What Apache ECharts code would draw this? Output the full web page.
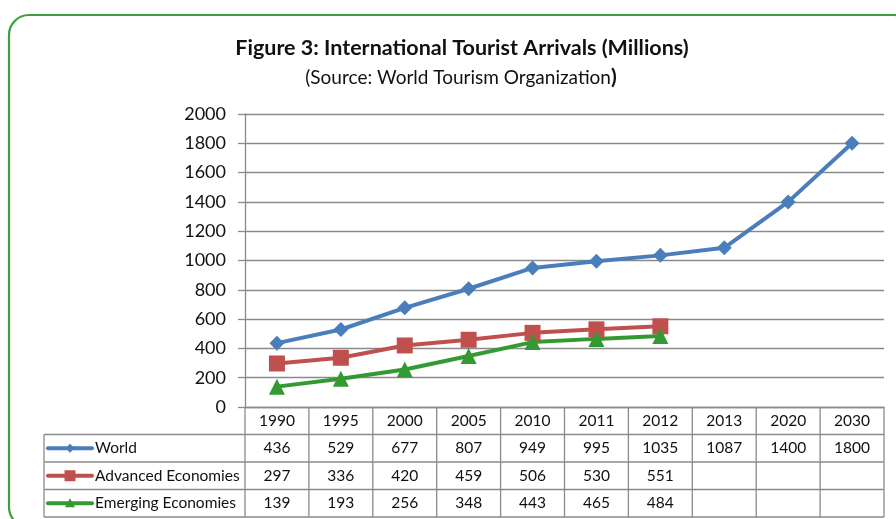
<!DOCTYPE html>
<html>
<head>
<meta charset="utf-8">
<script src="https://cdn.jsdelivr.net/npm/echarts@6/dist/echarts.min.js"></script>
<style>
  html, body { margin: 0; padding: 0; background: #fff; }
  #chart { width: 896px; height: 519px; }
</style>
</head>
<body>
<div id="chart"></div>
<script>
// International tourist arrivals, millions
const years = ['1990', '1995', '2000', '2005', '2010', '2011', '2012', '2013', '2020', '2030'];
const world = [436, 529, 677, 807, 949, 995, 1035, 1087, 1400, 1800];
const advanced = [297, 336, 420, 459, 506, 530, 551];
const emerging = [139, 193, 256, 348, 443, 465, 484];
const yTicks = [0, 200, 400, 600, 800, 1000, 1200, 1400, 1600, 1800, 2000];

const FONT = 'Lato, "Open Sans", sans-serif';
const GRID_COLOR = '#8a8a8a';
const seriesDefs = [
  { name: 'World', data: world, color: '#4a7ebb', symbol: 'diamond', size: 15, iconSize: 9 },
  { name: 'Advanced Economies', data: advanced, color: '#c0504d', symbol: 'rect', size: 16, iconSize: 11 },
  { name: 'Emerging Economies', data: emerging, color: '#339a33', symbol: 'triangle', size: 16, iconSize: 10 }
];

const chart = echarts.init(document.getElementById('chart'), null, { renderer: 'canvas' });

const option = {
  animation: false,
  backgroundColor: '#ffffff',
  title: [{
    text: 'Figure 3: International Tourist Arrivals (Millions)',
    left: 457, top: 32, textAlign: 'center',
    textStyle: { fontFamily: FONT, fontWeight: 'bold', fontSize: 21.5, color: '#111' }
  }, {
    text: '{n|(Source: World Tourism Organization}{b|)}',
    left: 456, top: 62, textAlign: 'center',
    textStyle: {
      fontWeight: 'normal',
      rich: {
        n: { fontFamily: FONT, fontSize: 19, fontWeight: 'normal', color: '#111' },
        b: { fontFamily: FONT, fontSize: 21, fontWeight: 'bold', color: '#111' }
      }
    }
  }],
  grid: { left: 245, right: 12, top: 114, bottom: 112, containLabel: false },
  xAxis: {
    type: 'category',
    data: years,
    boundaryGap: true,
    axisLine: { show: true, lineStyle: { color: GRID_COLOR, width: 1.3 } },
    axisTick: { show: false },
    axisLabel: { show: false }
  },
  yAxis: {
    type: 'value',
    min: 0, max: 2000, interval: 200,
    axisLine: { show: true, lineStyle: { color: GRID_COLOR, width: 1.3 } },
    axisTick: { show: true, inside: false, length: 7, lineStyle: { color: GRID_COLOR, width: 1.3 } },
    axisLabel: {
      margin: 19, fontFamily: FONT, fontSize: 18, color: '#111',
      formatter: v => (yTicks.indexOf(v) >= 0 ? String(v) : '')
    },
    splitLine: { show: true, lineStyle: { color: GRID_COLOR, width: 1.3 } }
  },
  series: seriesDefs.map(s => ({
    name: s.name,
    type: 'line',
    data: s.data,
    symbol: s.symbol,
    symbolSize: s.size,
    showAllSymbol: true,
    lineStyle: { color: s.color, width: 4 },
    itemStyle: { color: s.color },
    z: 3
  }))
};

chart.setOption(option);

// Data table under the plot, laid out from the category axis positions
function buildTable() {
  const c0 = chart.convertToPixel({ xAxisIndex: 0 }, 0);
  const c1 = chart.convertToPixel({ xAxisIndex: 0 }, 1);
  const colW = c1 - c0;
  const left = c0 - colW / 2;
  const right = left + colW * years.length;
  const top = chart.convertToPixel({ yAxisIndex: 0 }, 0);
  const rowH = 27.5;
  const tableLeft = 44;
  const lineStyle = { stroke: GRID_COLOR, lineWidth: 1.3 };
  const els = [];
  const line = (x1, y1, x2, y2) => els.push({
    type: 'line', shape: { x1, y1, x2, y2 }, style: lineStyle, silent: true, z: 10
  });
  const text = (t, x, y, align) => els.push({
    type: 'text', x, y, silent: true, z: 11,
    style: { text: t, fontFamily: FONT, fontSize: 15.5, fill: '#111', align: align || 'center', verticalAlign: 'middle' }
  });

  const bottom = top + rowH * (1 + seriesDefs.length);
  // vertical boundaries of value columns
  for (let i = 0; i <= years.length; i++) {
    const x = left + colW * i;
    line(x, top, x, bottom);
  }
  // horizontal rules below the header row
  for (let r = 1; r <= seriesDefs.length + 1; r++) {
    const y = top + rowH * r;
    line(tableLeft, y, right, y);
  }
  line(tableLeft, top + rowH, tableLeft, bottom);

  // header row with years
  years.forEach((yr, i) => text(yr, c0 + colW * i, top + rowH / 2));

  // series rows: legend key, name, values
  seriesDefs.forEach((s, r) => {
    const cy = top + rowH * (r + 1.5);
    els.push({
      type: 'line', shape: { x1: tableLeft + 4, y1: cy, x2: tableLeft + 48, y2: cy },
      style: { stroke: s.color, lineWidth: 4, lineCap: 'round' }, silent: true, z: 11
    });
    els.push({
      type: 'group', x: tableLeft + 26, y: cy, silent: true, z: 12,
      children: [markerShape(s.symbol, s.iconSize, s.color)]
    });
    text(s.name, tableLeft + 51, cy, 'left');
    s.data.forEach((v, i) => text(String(v), c0 + colW * i, cy));
  });

  // chart frame
  els.push({
    type: 'rect', shape: { x: 9, y: 15, width: 905, height: 512, r: 20 },
    style: { fill: 'none', stroke: '#3f9f3f', lineWidth: 2.2 }, silent: true, z: 0
  });

  chart.setOption({ graphic: { elements: els } });
}

function markerShape(kind, size, color) {
  const h = size / 2;
  if (kind === 'rect') {
    return { type: 'rect', shape: { x: -h, y: -h, width: size, height: size }, style: { fill: color } };
  }
  if (kind === 'diamond') {
    return { type: 'polygon', shape: { points: [[0, -h], [h, 0], [0, h], [-h, 0]] }, style: { fill: color } };
  }
  return { type: 'polygon', shape: { points: [[0, -h], [h, h * 0.8], [-h, h * 0.8]] }, style: { fill: color } };
}

buildTable();
</script>
</body>
</html>
